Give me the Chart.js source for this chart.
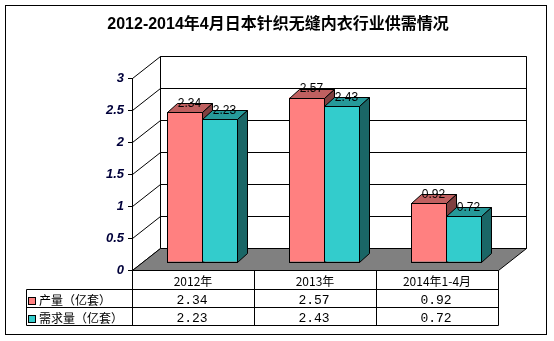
<!DOCTYPE html>
<html>
<head>
<meta charset="utf-8">
<script src="https://cdn.jsdelivr.net/npm/chart.js@4.4.0/dist/chart.umd.min.js"></script>
<style>
  html, body { margin: 0; padding: 0; background: #fff; }
  #wrap { width: 554px; height: 341px; position: relative; }
</style>
</head>
<body>
<div id="wrap"><canvas id="chart"></canvas></div>
<script>
const chartTitle = '2012-2014年4月日本针织无缝内衣行业供需情况';
const categories = ['2012年', '2013年', '2014年1-4月'];
const seriesNames = ['产量（亿套）', '需求量（亿套）'];
const outputValues = [2.34, 2.57, 0.92];
const demandValues = [2.23, 2.43, 0.72];
const yTickLabels = ['0', '0.5', '1', '1.5', '2', '2.5', '3'];

// front / top / side shade for each series
const faceColors = [
  ['#FF8080', '#BF6060', '#804040'],
  ['#33CCCC', '#269999', '#1A6666']
];

const WALL_DX = 28, WALL_DY = -22;  // floor and back wall depth
const BAR_DX = 9, BAR_DY = -8;      // bar fronts sit a bit behind the axis
const SIDE_DX = 10, SIDE_DY = -9;   // bar depth

function px(v) { return Math.round(v) + 0.5; }

function poly(ctx, pts, fill) {
  ctx.beginPath();
  ctx.moveTo(pts[0][0], pts[0][1]);
  for (let i = 1; i < pts.length; i++) ctx.lineTo(pts[i][0], pts[i][1]);
  ctx.closePath();
  if (fill) { ctx.fillStyle = fill; ctx.fill(); }
  ctx.stroke();
}

const box3d = {
  id: 'box3d',
  beforeDatasetsDraw(chart) {
    const ctx = chart.ctx;
    const a = chart.chartArea;
    const ys = chart.scales.y;
    const l = a.left, r = a.right, b = a.bottom;
    ctx.save();
    ctx.strokeStyle = '#000';
    ctx.lineWidth = 1;
    // back wall
    const wt = ys.getPixelForValue(ys.max) + WALL_DY;
    const wb = b + WALL_DY;
    ctx.beginPath();
    ctx.moveTo(px(l + WALL_DX), px(wb));
    ctx.lineTo(px(l + WALL_DX), px(wt));
    ctx.lineTo(px(r + WALL_DX), px(wt));
    ctx.lineTo(px(r + WALL_DX), px(wb));
    ys.ticks.forEach(t => {
      const y = ys.getPixelForValue(t.value);
      ctx.moveTo(px(l + WALL_DX), px(y + WALL_DY));
      ctx.lineTo(px(r + WALL_DX), px(y + WALL_DY));
      // side wall
      ctx.moveTo(px(l), px(y));
      ctx.lineTo(px(l + WALL_DX), px(y + WALL_DY));
    });
    ctx.stroke();
    // floor
    poly(ctx, [[px(l), px(b)], [px(r), px(b)], [px(r + WALL_DX), px(wb)], [px(l + WALL_DX), px(wb)]], '#808080');
    ctx.restore();
  },
  // bars are drawn below, series by series, so each one can get its top and side
  beforeDatasetDraw() {
    return false;
  },
  afterDatasetsDraw(chart) {
    const ctx = chart.ctx;
    ctx.save();
    ctx.translate(BAR_DX, BAR_DY);
    ctx.strokeStyle = '#000';
    ctx.lineWidth = 1;
    chart.data.datasets.forEach((ds, i) => {
      const shades = faceColors[i];
      chart.getDatasetMeta(i).data.forEach(bar => {
        bar.draw(ctx);
        const p = bar.getProps(['x', 'y', 'base', 'width'], true);
        const L = px(p.x - p.width / 2), R = px(p.x + p.width / 2);
        const T = px(p.y), B = px(p.base);
        ctx.strokeStyle = '#000';
        ctx.lineWidth = 1;
        ctx.strokeRect(L, T, R - L, B - T);
        poly(ctx, [[L, T], [R, T], [R + SIDE_DX, T + SIDE_DY], [L + SIDE_DX, T + SIDE_DY]], shades[1]);
        poly(ctx, [[R, T], [R + SIDE_DX, T + SIDE_DY], [R + SIDE_DX, B + SIDE_DY], [R, B]], shades[2]);
      });
    });
    ctx.font = '12px "Liberation Sans", Arial, sans-serif';
    ctx.fillStyle = '#000';
    ctx.textAlign = 'center';
    ctx.textBaseline = 'middle';
    chart.data.datasets.forEach((ds, i) => {
      chart.getDatasetMeta(i).data.forEach((bar, j) => {
        ctx.fillText(ds.data[j].toFixed(2), bar.x + 5, bar.y - 8.5);
      });
    });
    ctx.restore();
  },
  afterDraw(chart) {
    const ctx = chart.ctx;
    const a = chart.chartArea;
    const n = categories.length;
    const cw = (a.right - a.left) / n;
    const rows = [a.bottom, a.bottom + 19, a.bottom + 37, a.bottom + 55];
    const tableLeft = 26;
    ctx.save();
    ctx.strokeStyle = '#000';
    ctx.lineWidth = 1;
    ctx.beginPath();
    ctx.moveTo(px(a.left), px(rows[0]));
    ctx.lineTo(px(a.right), px(rows[0]));
    for (let k = 1; k < rows.length; k++) {
      ctx.moveTo(px(tableLeft), px(rows[k]));
      ctx.lineTo(px(a.right), px(rows[k]));
    }
    ctx.moveTo(px(tableLeft), px(rows[1]));
    ctx.lineTo(px(tableLeft), px(rows[3]));
    for (let i = 0; i <= n; i++) {
      ctx.moveTo(px(a.left + i * cw), px(rows[0]));
      ctx.lineTo(px(a.left + i * cw), px(rows[3]));
    }
    ctx.stroke();

    ctx.fillStyle = '#000';
    ctx.textBaseline = 'middle';
    ctx.textAlign = 'center';
    ctx.font = '12px "Noto Sans CJK SC", sans-serif';
    categories.forEach((c, i) => {
      ctx.fillText(c, a.left + (i + 0.5) * cw, (rows[0] + rows[1]) / 2 + 1.5);
    });
    ctx.font = '13px "Liberation Mono", monospace';
    [outputValues, demandValues].forEach((vals, s) => {
      const yc = (rows[s + 1] + rows[s + 2]) / 2 + 2.5;
      vals.forEach((v, i) => {
        ctx.fillText(v.toFixed(2), a.left + (i + 0.5) * cw - 1, yc);
      });
    });
    ctx.textAlign = 'left';
    ctx.font = '12px "Noto Sans CJK SC", sans-serif';
    seriesNames.forEach((name, s) => {
      const yc = (rows[s + 1] + rows[s + 2]) / 2 + 2.5;
      ctx.fillStyle = faceColors[s][0];
      ctx.fillRect(29, Math.round(yc) - 3, 6, 6);
      ctx.strokeRect(28.5, Math.round(yc) - 3.5, 7, 7);
      ctx.fillStyle = '#000';
      ctx.fillText(name, 39, yc);
    });

    // title, centred on the whole picture
    ctx.textAlign = 'center';
    ctx.font = 'bold 16px "Liberation Sans", "Noto Sans CJK SC", sans-serif';
    ctx.fillText(chartTitle, 278, 25);

    // outer frame
    ctx.strokeRect(5.5, 5.5, 541, 329);
    ctx.restore();
  }
};

new Chart(document.getElementById('chart'), {
  type: 'bar',
  data: {
    labels: categories,
    datasets: [
      { label: seriesNames[0], data: outputValues, backgroundColor: faceColors[0][0], borderWidth: 0 },
      { label: seriesNames[1], data: demandValues, backgroundColor: faceColors[1][0], borderWidth: 0 }
    ]
  },
  options: {
    responsive: true,
    maintainAspectRatio: false,
    devicePixelRatio: 1,
    animation: false,
    events: [],
    categoryPercentage: 70 / 122,
    barPercentage: 1,
    layout: { padding: { left: 0, right: 56, top: 78, bottom: 71 } },
    plugins: {
      legend: { display: false },
      tooltip: { enabled: false },
      title: { display: false }
    },
    scales: {
      x: { display: false },
      y: {
        min: 0,
        max: 3,
        afterFit(scale) { scale.width = 132; },
        grid: { drawOnChartArea: false, drawTicks: true, tickLength: 4, color: '#000' },
        border: { display: true, color: '#000', width: 1 },
        ticks: {
          stepSize: 0.5,
          padding: 4,
          color: '#00003a',
          font: { family: '"Liberation Sans", Arial, sans-serif', size: 13, weight: 'bold', style: 'italic' },
          callback: (v, i) => yTickLabels[i]
        }
      }
    }
  },
  plugins: [box3d]
});
</script>
</body>
</html>
